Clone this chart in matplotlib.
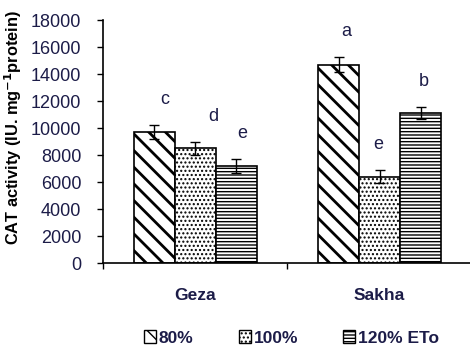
import matplotlib
matplotlib.use("Agg")
import matplotlib.pyplot as plt
from matplotlib.patches import Patch
import numpy as np

plt.rcParams['font.family'] = ['Liberation Sans', 'DejaVu Sans']

cultivars = ["Geza", "Sakha"]
series = ["80%", "100%", "120% ETo"]
values = {
    "80%": [9700, 14700],
    "100%": [8500, 6400],
    "120% ETo": [7200, 11100],
}
errors = {
    "80%": [500, 560],
    "100%": [480, 460],
    "120% ETo": [500, 450],
}
letters = {
    "80%": ["c", "a"],
    "100%": ["d", "e"],
    "120% ETo": ["e", "b"],
}
# small horizontal nudges of the significance letters (axis units)
letter_dx = {
    "80%": [0.055, 0.04],
    "100%": [0.1, -0.005],
    "120% ETo": [0.035, 0.02],
}
hatches = {"80%": "\\\\", "100%": "....", "120% ETo": "-----"}
yticks = [0, 2000, 4000, 6000, 8000, 10000, 12000, 14000, 16000, 18000]

txt = "#1c1c48"
fig = plt.figure(figsize=(4.7, 3.54), dpi=100)
ax = fig.add_axes([0.219, 0.257, 0.785, 0.686])

width = 0.222
centers = np.arange(len(cultivars)) + 0.5
for i, s in enumerate(series):
    x = centers + (i - 1) * width
    plt.rcParams['hatch.linewidth'] = 2.0 if s == "80%" else 1.0
    ax.bar(x, values[s], width, color="white", edgecolor="black",
           hatch=hatches[s], linewidth=1.2, zorder=2)
    ax.errorbar(x, values[s], yerr=errors[s], fmt="none", ecolor="black",
                elinewidth=1.0, capsize=3.5, capthick=1.0, zorder=3)
    for xi, v, e, l, dx in zip(x, values[s], errors[s], letters[s], letter_dx[s]):
        ax.text(xi + dx, v + e + 1900, l, ha="center", va="center",
                fontsize=13, color=txt)

ax.set_xlim(0, 2)
ax.set_ylim(0, 18000)
ax.set_yticks(yticks)
ax.set_yticklabels([str(t) for t in yticks], fontsize=13, color=txt)
ax.set_xticks([0, 1, 2])
ax.set_xticklabels([])
for c, name in zip(centers, cultivars):
    ax.text(c, -0.135, name, transform=ax.get_xaxis_transform(),
            ha="center", va="center", fontsize=12.5, fontweight="bold",
            color=txt)
ax.tick_params(axis="both", direction="out", length=4.5, width=1, color="black")
ax.tick_params(axis="y", pad=11)
ax.spines["top"].set_visible(False)
ax.spines["right"].set_visible(False)
ax.spines["left"].set_linewidth(1.2)
ax.spines["bottom"].set_linewidth(1.2)
ax.set_ylabel("CAT activity (IU. mg$^{\\mathbf{-1}}$protein)", fontsize=11.8,
              fontweight="bold", color="black")
ax.yaxis.set_label_coords(-0.213, 0.56)

handles = [Patch(facecolor="white", edgecolor="black", hatch=hatches[s]) for s in series]
leg = fig.legend(handles, series, loc="center", bbox_to_anchor=(0.62, 0.045),
                 ncol=3, frameon=False, handlelength=0.7, handleheight=0.7,
                 handletextpad=0.15, columnspacing=2.6,
                 prop={"size": 12.5, "weight": "bold"})
for t in leg.get_texts():
    t.set_color(txt)

fig.savefig("out.png", dpi=100)
